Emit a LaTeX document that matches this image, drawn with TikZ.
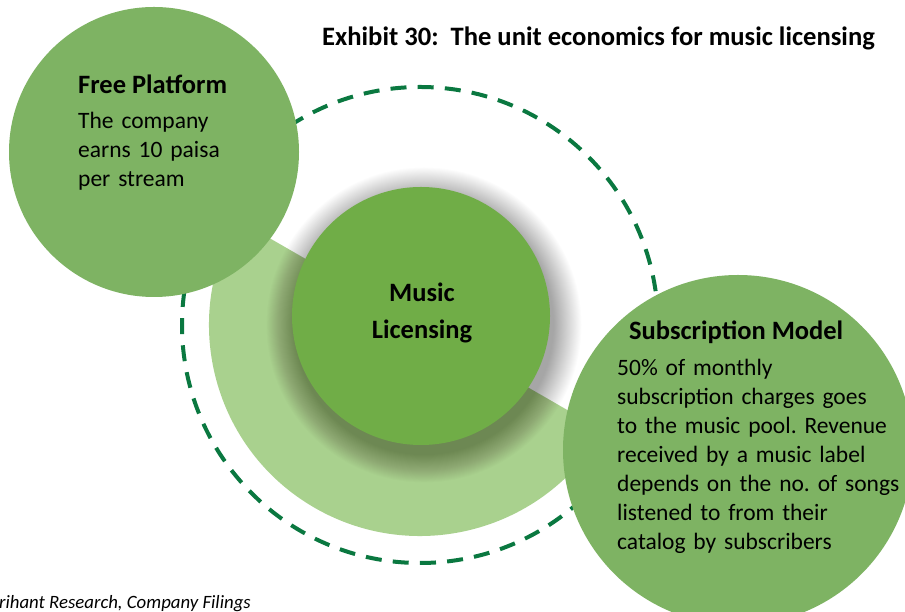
\documentclass[tikz,border=0pt]{standalone}
\usepackage{fontspec}
\setmainfont{Carlito}
\frenchspacing
\definecolor{sidegreen}{RGB}{126,179,99}
\definecolor{hubgreen}{RGB}{112,173,71}
\definecolor{piegreen}{RGB}{169,209,142}
\definecolor{dashgreen}{RGB}{10,120,64}
\begin{document}
\begin{tikzpicture}[x=1pt,y=1pt,
  disc/.style={circle, inner sep=0pt, outer sep=0pt},
  head/.style={font=\bfseries\fontsize{26.5}{32}\selectfont, inner sep=0pt},
  body/.style={font=\fontsize{23.5}{29}\selectfont, inner sep=0pt, align=left},
]
\useasboundingbox (0,0) rectangle (905,612);
\clip (0,0) rectangle (905,612);
\fill[white] (0,0) rectangle (905,612);

% outer dashed orbit
\coordinate (ring) at (420,287);
\draw[dashgreen, line width=4pt, dash pattern=on 16pt off 11.19pt]
  (ring) ++(270:238) arc[start angle=270, delta angle=360, radius=238];

% pale half disc behind the hub
\fill[piegreen] (ring) -- ++(150:211) arc[start angle=150, end angle=330, radius=211] -- cycle;

% soft shadow under the hub
\foreach \i in {1,...,30}
  \fill[black, opacity=0.012] (424,287) circle ({129+0.95*\i});

% discs
\node[disc, fill=hubgreen, minimum size=258pt] (hub) at (421,296) {};
\node[disc, fill=sidegreen, minimum size=290pt] (free) at (154,460) {};
\node[disc, fill=sidegreen, minimum size=350pt] (sub) at (738,162) {};

% texts
\node[font=\bfseries\fontsize{26.6}{32}\selectfont, anchor=base west, inner sep=0pt]
  (title) at (322,566) {Exhibit 30:\ \ The unit economics for music licensing};

\node[head, anchor=base west] (freeh) at (78,518) {Free Platform};
\node[body, anchor=base west, text width=200pt] (freet) at (78,483)
  {The company\\earns 10 paisa\\per stream};

\node[font=\bfseries\fontsize{26.5}{37}\selectfont, inner sep=0pt, align=center,
  text width=160pt, anchor=base] (hubt) at (422,310) {Music\\Licensing};

\node[head, anchor=base west] (subh) at (629,272) {Subscription Model};
\node[body, anchor=base west, text width=290pt] (subt) at (617,236)
  {50\% of monthly\\subscription charges goes\\to the music pool. Revenue\\received by a music label\\depends on the no. of songs\\listened to from their\\catalog by subscribers};

\node[font=\itshape\fontsize{18.8}{22}\selectfont, anchor=base east, inner sep=0pt]
  (src) at (251,3) {Source: Arihant Research, Company Filings};
\end{tikzpicture}
\end{document}
